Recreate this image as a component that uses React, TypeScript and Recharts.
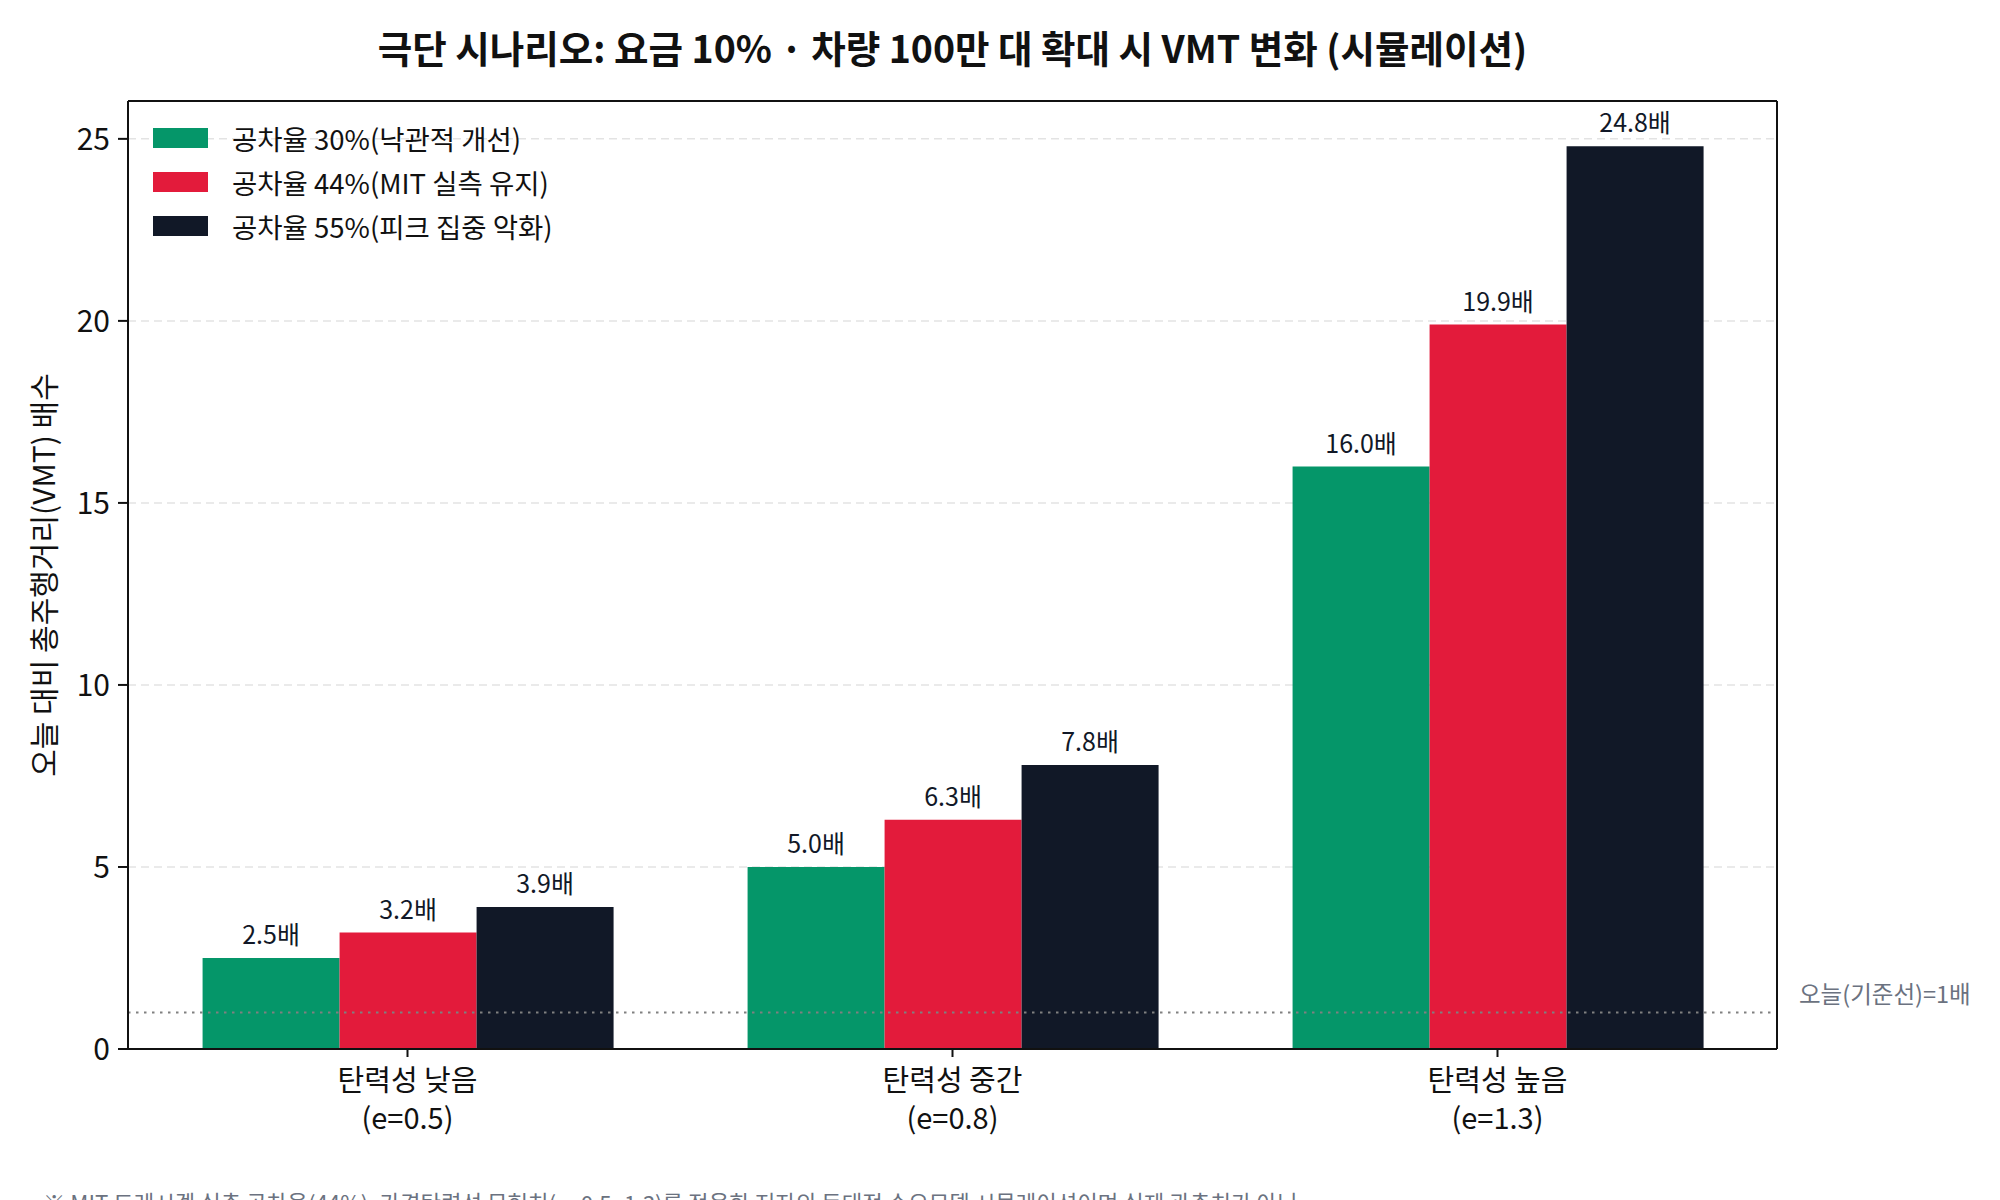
import {
  BarChart,
  Bar,
  XAxis,
  YAxis,
  CartesianGrid,
  Legend,
  LabelList,
  ReferenceLine,
} from "recharts";

const categories = ["탄력성 낮음", "탄력성 중간", "탄력성 높음"];
const elasticity = ["(e=0.5)", "(e=0.8)", "(e=1.3)"];
const occ30 = [2.5, 5.0, 16.0];
const occ44 = [3.2, 6.3, 19.9];
const occ55 = [3.9, 7.8, 24.8];
const yTicks = [0, 5, 10, 15, 20, 25];

const data = categories.map((name, i) => ({
  name,
  occ30: occ30[i],
  occ44: occ44[i],
  occ55: occ55[i],
}));

const FONT = '"Noto Sans CJK KR", "Noto Sans", sans-serif';
const INK = "#111111";

function CategoryTick({ x, y, payload }: any) {
  const i = categories.indexOf(payload.value);
  return (
    <text x={x} y={y} textAnchor="middle" fontSize={29} fill={INK}>
      <tspan x={x} dy={32}>{payload.value}</tspan>
      <tspan x={x} dy={38}>{elasticity[i]}</tspan>
    </text>
  );
}

function LegendBox({ payload }: any) {
  return (
    <div>
      {(payload || []).map((p: any) => (
        <div key={p.value} style={{ display: "flex", alignItems: "center", height: 44 }}>
          <span style={{ display: "inline-block", width: 55, height: 20, background: p.color, marginRight: 24 }} />
          <span style={{ fontSize: 27.5, color: INK, whiteSpace: "nowrap" }}>{p.value}</span>
        </div>
      ))}
    </div>
  );
}

const fmt = (v: number) => `${v.toFixed(1)}배`;

export default function App() {
  return (
    <div style={{ position: "absolute", left: 0, top: 0, width: 2000, height: 1200, background: "#fff", fontFamily: FONT, overflow: "hidden" }}>
      <div style={{ position: "absolute", left: 128, top: 26, width: 1649, textAlign: "center", fontSize: 37.5, fontWeight: 700, lineHeight: "42px", color: INK }}>
        극단 시나리오: 요금 10% · 차량 100만 대 확대 시 VMT 변화 (시뮬레이션)
      </div>
      <BarChart
        width={2000}
        height={1200}
        data={data}
        margin={{ top: 100, right: 222, left: 0, bottom: 0 }}
        barCategoryGap="12.4%"
        barGap={0}
        style={{ fontFamily: FONT }}
      >
        <CartesianGrid vertical={false} stroke="#e3e3e3" strokeDasharray="8 5" strokeWidth={1.5} />
        <XAxis
          dataKey="name"
          height={151}
          padding={{ left: 7, right: 7 }}
          tick={<CategoryTick />}
          tickSize={8}
          axisLine={{ stroke: INK, strokeWidth: 2 }}
          tickLine={{ stroke: INK, strokeWidth: 2 }}
          interval={0}
        />
        <XAxis xAxisId="top" dataKey="name" orientation="top" height={1} tick={false} tickLine={false} axisLine={{ stroke: INK, strokeWidth: 2 }} />
        <YAxis
          width={128}
          domain={[0, 26.04]}
          ticks={yTicks}
          allowDataOverflow
          tickSize={10}
          tickMargin={8}
          tick={{ fontSize: 30, fill: INK }}
          axisLine={{ stroke: INK, strokeWidth: 2 }}
          tickLine={{ stroke: INK, strokeWidth: 2 }}
          label={{
            content: ({ viewBox }: any) => {
              const cx = 42;
              const cy = viewBox.y + viewBox.height / 2;
              return (
                <text x={cx} y={cy} transform={`rotate(-90 ${cx} ${cy})`} textAnchor="middle" dominantBaseline="central" fontSize={30} fill={INK}>
                  오늘 대비 총주행거리(VMT) 배수
                </text>
              );
            },
          }}
        />
        <YAxis yAxisId="right" orientation="right" width={1} domain={[0, 1]} tick={false} tickLine={false} axisLine={{ stroke: INK, strokeWidth: 2 }} />
        <Legend
          layout="vertical"
          align="center"
          verticalAlign="middle"
          content={<LegendBox />}
          wrapperStyle={{ top: 116, left: 153, width: "auto" }}
        />
        <ReferenceLine
          y={1}
          stroke="#808080"
          strokeWidth={2}
          strokeDasharray="2.5 5.5"
          label={{
            content: ({ viewBox }: any) => (
              <text x={viewBox.x + viewBox.width + 22} y={viewBox.y - 20} dominantBaseline="central" fontSize={23.5} fill="#6b7280">
                오늘(기준선)=1배
              </text>
            ),
          }}
        />
        <Bar dataKey="occ30" name="공차율 30%(낙관적 개선)" fill="#059669" isAnimationActive={false}>
          <LabelList dataKey="occ30" position="top" offset={14} formatter={fmt} fontSize={25} fill="#111827" />
        </Bar>
        <Bar dataKey="occ44" name="공차율 44%(MIT 실측 유지)" fill="#e31b3b" isAnimationActive={false}>
          <LabelList dataKey="occ44" position="top" offset={14} formatter={fmt} fontSize={25} fill="#111827" />
        </Bar>
        <Bar dataKey="occ55" name="공차율 55%(피크 집중 악화)" fill="#111827" isAnimationActive={false}>
          <LabelList dataKey="occ55" position="top" offset={14} formatter={fmt} fontSize={25} fill="#111827" />
        </Bar>
      </BarChart>
      <div style={{ position: "absolute", left: 43, top: 1189, fontSize: 22.3, lineHeight: "26px", color: "#6b7280", whiteSpace: "nowrap" }}>
        ※ MIT 드레시겔 실측 공차율(44%), 가격탄력성 문헌치(e=0.5~1.3)를 적용한 저자의 동태적 수요모델 시뮬레이션이며 실제 관측치가 아님
      </div>
    </div>
  );
}
